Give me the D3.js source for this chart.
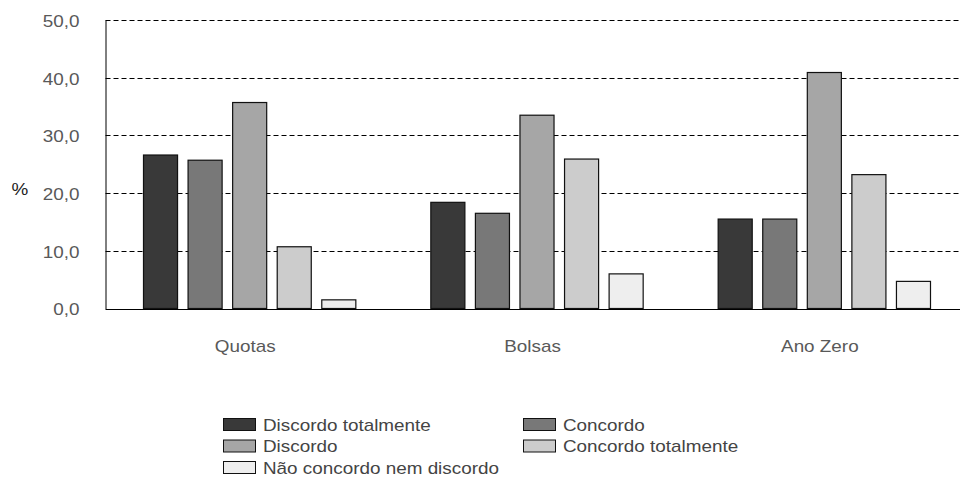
<!DOCTYPE html>
<html>
<head>
<meta charset="utf-8">
<script src="https://cdn.jsdelivr.net/npm/d3@7"></script>
<style>
html,body{margin:0;padding:0;background:#fff;}
svg{display:block;font-family:"Liberation Sans",Arial,sans-serif;}
</style>
</head>
<body>
<svg id="chart" width="960" height="478"></svg>
<script>
const categories = ["Quotas", "Bolsas", "Ano Zero"];
const seriesNames = ["Discordo totalmente", "Concordo", "Discordo", "Concordo totalmente", "Não concordo nem discordo"];
const seriesColors = ["#393939", "#787878", "#a6a6a6", "#cccccc", "#eeeeee"];
const discordoTotalmente = [26.6, 18.4, 15.5];
const concordo = [25.7, 16.5, 15.5];
const discordo = [35.7, 33.5, 40.9];
const concordoTotalmente = [10.7, 25.9, 23.2];
const naoConcordoNemDiscordo = [1.5, 6.0, 4.7];
const seriesValues = [discordoTotalmente, concordo, discordo, concordoTotalmente, naoConcordoNemDiscordo];
const yTicks = [0, 10, 20, 30, 40, 50];

(function () {
const svg = d3.select("#chart");
const mLeft = 105.5, mRight = 967.5, mTop = 20, mBottom = 308.5;
const FS = 16;
const SX = 1.18; // horizontal stretch of the reference's text

const x0 = d3.scaleBand().domain(categories).range([mLeft, mRight]).padding(0);
const bw = x0.bandwidth();
const x1 = d3.scaleBand().domain(d3.range(seriesNames.length))
  .range([37.5, bw - 37.5]).paddingInner(0.236).paddingOuter(0);
const y = d3.scaleLinear().domain([0, 50]).range([mBottom, mTop]);
const fmt = v => d3.format(".1f")(v).replace(".", ",");

function stext(sel, x, yy) {
  return sel.attr("transform", (d, i) => `translate(${typeof x === "function" ? x(d, i) : x},${typeof yy === "function" ? yy(d, i) : yy}) scale(${SX},1)`);
}

// gridlines
svg.append("g").selectAll("line").data(yTicks.filter(t => t > 0)).join("line")
  .attr("x1", mLeft).attr("x2", mRight)
  .attr("y1", d => Math.round(y(d)) + 0.5).attr("y2", d => Math.round(y(d)) + 0.5)
  .attr("stroke", "#000").attr("stroke-width", 1).attr("stroke-dasharray", "5,3");

// y axis
const yAxis = svg.append("g").attr("transform", `translate(${mLeft},0)`)
  .call(d3.axisLeft(y).tickValues(yTicks).tickFormat(fmt).tickSize(0).tickPadding(0));
yAxis.select(".domain").attr("stroke", "#000");
yAxis.selectAll(".tick text")
  .attr("x", 0).attr("dy", "0.4em")
  .attr("transform", `translate(-26,0) scale(${SX},1)`)
  .attr("font-size", FS).attr("fill", "#595959")
  .attr("font-family", "Liberation Sans, Arial, sans-serif");

// bars
const groups = svg.append("g").selectAll("g").data(categories).join("g")
  .attr("transform", c => `translate(${x0(c)},0)`);
groups.selectAll("rect").data((c, ci) => seriesValues.map((vals, si) => ({si, v: vals[ci]}))).join("rect")
  .attr("x", d => x1(d.si) + 0.5)
  .attr("width", x1.bandwidth())
  .attr("y", d => y(d.v))
  .attr("height", d => y(0) - y(d.v))
  .attr("fill", d => seriesColors[d.si])
  .attr("stroke", "#111").attr("stroke-width", 1.2);

// x axis baseline
svg.append("line").attr("x1", mLeft).attr("x2", mRight)
  .attr("y1", Math.round(y(0)) + 0.5).attr("y2", Math.round(y(0)) + 0.5)
  .attr("stroke", "#000");

// category labels
stext(svg.append("g").selectAll("text").data(categories).join("text"),
      c => x0(c) + bw / 2 - 4, 351.5)
  .attr("text-anchor", "middle").attr("font-size", FS).attr("fill", "#595959")
  .text(c => c);

// % label
stext(svg.append("text"), 11.5, 195).attr("font-size", FS).attr("fill", "#222").text("%");

// legend
const legendPos = [[223, 418], [523, 418], [223, 439.5], [523, 439.5], [223, 461]];
const lg = svg.append("g").selectAll("g").data(seriesNames).join("g")
  .attr("transform", (d, i) => `translate(${legendPos[i][0]},${legendPos[i][1]})`);
lg.append("rect").attr("x", 0.5).attr("y", 0.5).attr("width", 32).attr("height", 12)
  .attr("fill", (d, i) => seriesColors[i]).attr("stroke", "#111");
stext(lg.append("text"), 40, 12.5).attr("font-size", FS).attr("fill", "#444").text(d => d);
})();
</script>
</body>
</html>
